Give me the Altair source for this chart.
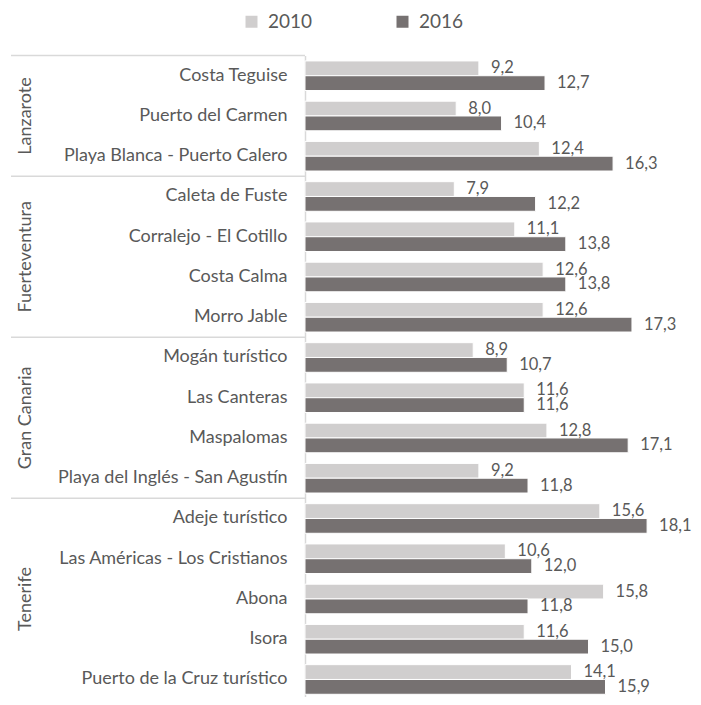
import altair as alt
import pandas as pd

categories = [
    "Costa Teguise", "Puerto del Carmen", "Playa Blanca - Puerto Calero",
    "Caleta de Fuste", "Corralejo - El Cotillo", "Costa Calma", "Morro Jable",
    "Mogán turístico", "Las Canteras", "Maspalomas", "Playa del Inglés - San Agustín",
    "Adeje turístico", "Las Américas - Los Cristianos", "Abona", "Isora",
    "Puerto de la Cruz turístico",
]
islands = ["Lanzarote"] * 3 + ["Fuerteventura"] * 4 + ["Gran Canaria"] * 4 + ["Tenerife"] * 5
v2010 = [9.2, 8.0, 12.4, 7.9, 11.1, 12.6, 12.6, 8.9, 11.6, 12.8, 9.2, 15.6, 10.6, 15.8, 11.6, 14.1]
v2016 = [12.7, 10.4, 16.3, 12.2, 13.8, 13.8, 17.3, 10.7, 11.6, 17.1, 11.8, 18.1, 12.0, 11.8, 15.0, 15.9]
years = ["2010", "2016"]
colors = ["#d0cece", "#767171"]

# group separators (top edge of first row of each island)
sep_cats = ["Costa Teguise", "Caleta de Fuste", "Mogán turístico", "Adeje turístico"]
# island labels: centred on a row, or on a row boundary
grp_center = pd.DataFrame({"island": ["Lanzarote", "Tenerife"],
                           "cat": ["Puerto del Carmen", "Abona"]})
grp_edge = pd.DataFrame({"island": ["Fuerteventura", "Gran Canaria"],
                         "cat": ["Costa Calma", "Maspalomas"]})

rows = []
for c, g, a, b in zip(categories, islands, v2010, v2016):
    rows.append({"cat": c, "island": g, "year": years[0], "value": a})
    rows.append({"cat": c, "island": g, "year": years[1], "value": b})
df = pd.DataFrame(rows)

FONT = "Lato"
TXT = "#595959"

yscale = alt.Scale(paddingInner=0, paddingOuter=0, range=[0, 644])
yaxis = alt.Axis(labelFont=FONT, labelFontSize=18, labelColor=TXT,
                 ticks=False, tickSize=0, labelPadding=18,
                 domainColor="#d9d9d9", domainWidth=1.5, labelLimit=400)
yoff = alt.YOffset("year:N", sort=years, scale=alt.Scale(paddingInner=0, paddingOuter=0.36))
xscale = alt.Scale(domain=[0, 20], nice=False, zero=True)


def Y(**kw):
    return alt.Y("cat:N", sort=categories, scale=yscale, title=None, axis=yaxis, **kw)


bars = alt.Chart(df).mark_bar(stroke="white", strokeWidth=1).encode(
    y=Y(),
    x=alt.X("value:Q", scale=xscale, axis=None),
    yOffset=yoff,
    color=alt.Color("year:N", sort=years,
                    scale=alt.Scale(domain=years, range=colors),
                    legend=alt.Legend(title=None, orient="none", direction="horizontal",
                                      legendX=-63, legendY=-43.6,
                                      symbolType="square", symbolSize=144,
                                      symbolStrokeWidth=0, labelFont=FONT,
                                      labelFontSize=19, labelColor=TXT,
                                      labelOffset=7, columnPadding=80, padding=0)),
)

labels = alt.Chart(df).transform_calculate(
    lab="replace(format(datum.value, '.1f'), '.', ',')"
).mark_text(align="left", baseline="middle", dx=12, font=FONT, fontSize=16.5,
            color=TXT).encode(
    y=Y(),
    x=alt.X("value:Q", scale=xscale, axis=None),
    yOffset=yoff,
    text="lab:N",
)

seps = alt.Chart(pd.DataFrame({"cat": sep_cats})).mark_rule(
    color="#d9d9d9", strokeWidth=1.5).encode(
    y=Y(bandPosition=0),
    x=alt.value(-294), x2=alt.value(0),
)

glab1 = alt.Chart(grp_center).mark_text(angle=270, align="center", baseline="middle",
                                        font=FONT, fontSize=18, color=TXT).encode(
    y=Y(),
    x=alt.value(-279), text="island:N",
)
glab2 = alt.Chart(grp_edge).mark_text(angle=270, align="center", baseline="middle",
                                      font=FONT, fontSize=18, color=TXT).encode(
    y=Y(bandPosition=0),
    x=alt.value(-279), text="island:N",
)

chart = alt.layer(bars, labels, seps, glab1, glab2).properties(
    width=378, height=641,
    autosize=alt.AutoSizeParams(type="none"),
    padding={"left": 297, "top": 47.6, "right": 10, "bottom": 0},
).configure_view(stroke=None)

chart.save("out.html", embed_options={"renderer": "svg", "actions": False})
